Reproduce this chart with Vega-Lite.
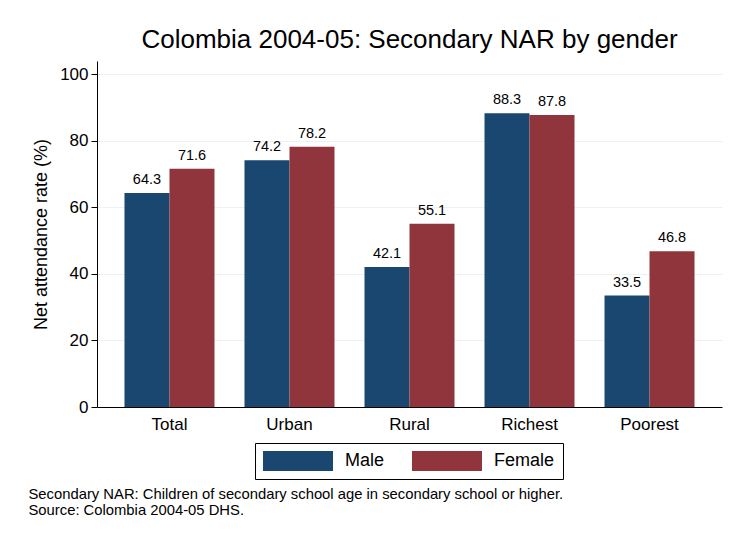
{
  "$schema": "https://vega.github.io/schema/vega-lite/v6.json",
  "autosize": "none",
  "width": 625,
  "height": 346,
  "padding": {"left": 97, "top": 61, "right": 8, "bottom": 129},
  "background": "white",
  "config": {
    "font": "Liberation Sans",
    "view": {"stroke": null},
    "legend": {
      "orient": "none",
      "legendX": 158,
      "legendY": 382,
      "direction": "horizontal",
      "columns": 2,
      "strokeColor": "black",
      "fillColor": "white",
      "padding": 8,
      "symbolType": "M-3.5,-1H3.5V1H-3.5Z",
      "symbolSize": 400,
      "symbolOffset": 25,
      "symbolStrokeWidth": 0,
      "symbolOpacity": 1,
      "labelFontSize": 18,
      "labelColor": "black",
      "labelOffset": 37,
      "columnPadding": 27
    }
  },
  "title": {
    "text": "Colombia 2004-05: Secondary NAR by gender",
    "fontSize": 26,
    "fontWeight": "normal",
    "color": "black",
    "anchor": "middle",
    "frame": "group",
    "offset": 8
  },
  "data": {
    "values": [
      {"group": "Total", "sex": "Male", "rate": 64.3},
      {"group": "Total", "sex": "Female", "rate": 71.6},
      {"group": "Urban", "sex": "Male", "rate": 74.2},
      {"group": "Urban", "sex": "Female", "rate": 78.2},
      {"group": "Rural", "sex": "Male", "rate": 42.1},
      {"group": "Rural", "sex": "Female", "rate": 55.1},
      {"group": "Richest", "sex": "Male", "rate": 88.3},
      {"group": "Richest", "sex": "Female", "rate": 87.8},
      {"group": "Poorest", "sex": "Male", "rate": 33.5},
      {"group": "Poorest", "sex": "Female", "rate": 46.8}
    ]
  },
  "encoding": {
    "x": {
      "field": "group",
      "type": "nominal",
      "sort": ["Total", "Urban", "Rural", "Richest", "Poorest"],
      "scale": {"paddingInner": 0.25, "paddingOuter": 0.229},
      "axis": {
        "title": ["Secondary NAR: Children of secondary school age in secondary school or higher.", "Source: Colombia 2004-05 DHS."],
        "titleFontSize": 14.8,
        "titleFontWeight": "normal",
        "titleColor": "black",
        "titleAlign": "left",
        "titleAnchor": "start",
        "titleBaseline": "top",
        "titleX": -69,
        "titleY": 79,
        "titleLineHeight": 16,
        "labelFontSize": 17,
        "labelColor": "black",
        "labelAngle": 0,
        "labelPadding": 9,
        "ticks": false,
        "domainColor": "black",
        "grid": false
      }
    },
    "xOffset": {"field": "sex", "type": "nominal", "sort": ["Male", "Female"]},
    "y": {
      "field": "rate",
      "type": "quantitative",
      "scale": {"domain": [0, 104], "nice": false},
      "axis": {
        "title": "Net attendance rate (%)",
        "titleFontSize": 18,
        "titleFontWeight": "normal",
        "titleColor": "black",
        "titlePadding": 9,
        "labelFontSize": 17,
        "labelColor": "black",
        "labelPadding": 3,
        "tickColor": "black",
        "tickSize": 6,
        "domainColor": "black",
        "gridColor": "#eaf2f3",
        "values": [0, 20, 40, 60, 80, 100]
      }
    }
  },
  "layer": [
    {
      "mark": {"type": "bar"},
      "encoding": {
        "color": {
          "field": "sex",
          "type": "nominal",
          "sort": ["Male", "Female"],
          "scale": {"domain": ["Male", "Female"], "range": ["#1a476f", "#90353b"]},
          "legend": {"title": null}
        }
      }
    },
    {
      "mark": {"type": "text", "baseline": "bottom", "dy": -6, "fontSize": 14.5, "color": "black"},
      "encoding": {"text": {"field": "rate", "type": "quantitative", "format": ".1f"}}
    }
  ]
}
